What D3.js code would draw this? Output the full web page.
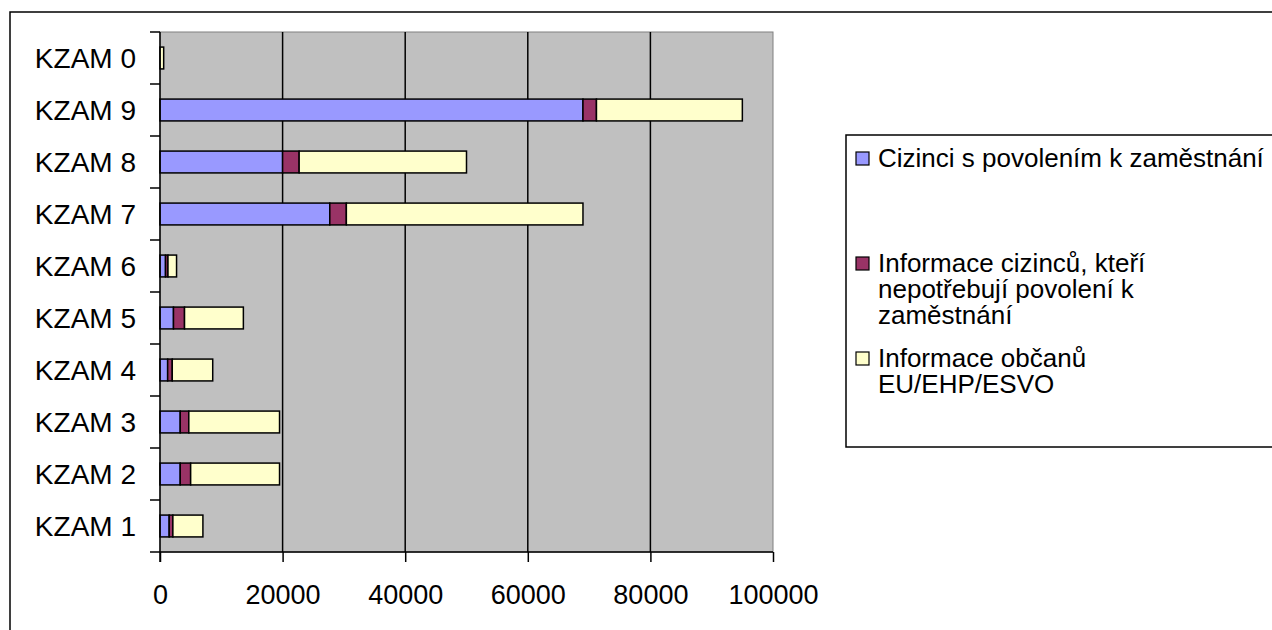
<!DOCTYPE html>
<html>
<head>
<meta charset="utf-8">
<script src="https://cdn.jsdelivr.net/npm/d3@7"></script>
<style>
  body { margin: 0; background: #fff; }
  svg { display: block; font-family: Arial, "Liberation Sans", sans-serif; }
</style>
</head>
<body>
<svg id="chart" width="1272" height="630"></svg>
<script>
// categories from top to bottom, as in the picture
const categories = ['KZAM 0', 'KZAM 9', 'KZAM 8', 'KZAM 7', 'KZAM 6', 'KZAM 5', 'KZAM 4', 'KZAM 3', 'KZAM 2', 'KZAM 1'];
const seriesNames = [
  'Cizinci s povolením k zaměstnání',
  'Informace cizinců, kteří nepotřebují povolení k zaměstnání',
  'Informace občanů EU/EHP/ESVO'
];
// legend text is wrapped like in the original
const legendLines = [
  ['Cizinci s povolením k zaměstnání'],
  ['Informace cizinců, kteří', 'nepotřebují povolení k', 'zaměstnání'],
  ['Informace občanů', 'EU/EHP/ESVO']
];
const withPermit    = [0,   69000, 20000, 27700, 900,  2200, 1250, 3300, 3300, 1500];
const withoutPermit = [0,   2200,  2700,  2700,  400,  1800, 750,  1400, 1700, 600];
const euCitizens    = [600, 23800, 27300, 38600, 1400, 9600, 6600, 14800, 14500, 4900];
const xTicks = [0, 20000, 40000, 60000, 80000, 100000];
const colors = ['#9999ff', '#993366', '#ffffcc'];

const svg = d3.select('#chart');

// outer chart frame (runs off the right and bottom edge)
svg.append('rect')
  .attr('x', 10).attr('y', 12)
  .attr('width', 1300).attr('height', 700)
  .attr('fill', '#fff')
  .attr('stroke', '#000').attr('stroke-width', 1.5);

const plot = { left: 160, right: 773, top: 32, bottom: 552 };

const x = d3.scaleLinear().domain([0, 100000]).range([plot.left, plot.right]);
const y = d3.scaleBand().domain(categories).range([plot.top, plot.bottom]).paddingInner(0.58).paddingOuter(0.29);

// grey plot area
svg.append('rect')
  .attr('x', plot.left).attr('y', plot.top)
  .attr('width', plot.right - plot.left).attr('height', plot.bottom - plot.top)
  .attr('fill', '#c0c0c0')
  .attr('stroke', '#808080').attr('stroke-width', 1);

// vertical gridlines
svg.append('g')
  .selectAll('line')
  .data(xTicks.slice(1, -1))
  .join('line')
    .attr('x1', d => x(d)).attr('x2', d => x(d))
    .attr('y1', plot.top).attr('y2', plot.bottom)
    .attr('stroke', '#000').attr('stroke-width', 1.5);

// stacked bars
const table = categories.map((c, i) => ({ cat: c, s0: withPermit[i], s1: withoutPermit[i], s2: euCitizens[i] }));
const stacked = d3.stack().keys(['s0', 's1', 's2'])(table);

svg.append('g')
  .selectAll('g')
  .data(stacked)
  .join('g')
    .attr('fill', (d, i) => colors[i])
  .selectAll('rect')
  .data(d => d.filter(p => p[1] - p[0] > 0))
  .join('rect')
    .attr('x', d => x(d[0]))
    .attr('y', d => y(d.data.cat))
    .attr('width', d => x(d[1]) - x(d[0]))
    .attr('height', y.bandwidth())
    .attr('stroke', '#000').attr('stroke-width', 1.5);

// x axis
const xAxis = svg.append('g')
  .attr('transform', `translate(0,${plot.bottom})`)
  .call(d3.axisBottom(x).tickValues(xTicks).tickFormat(d3.format('d')).tickSize(10));
xAxis.select('.domain').attr('stroke', '#000').attr('stroke-width', 1.5).attr('d', `M${plot.left},0H${plot.right}`);
xAxis.selectAll('.tick line').attr('stroke-width', 1.5);
xAxis.selectAll('.tick text')
  .attr('y', 43).attr('dy', '0.35em')
  .attr('font-size', 27)
  .attr('font-family', 'Arial, "Liberation Sans", sans-serif')
  .attr('fill', '#000');

// y axis: ticks sit between the categories
const yAxis = svg.append('g')
  .attr('transform', `translate(${plot.left},0)`);
yAxis.append('line')
  .attr('x1', 0).attr('x2', 0)
  .attr('y1', plot.top).attr('y2', plot.bottom + 10)
  .attr('stroke', '#000').attr('stroke-width', 1.5);
const bandEdge = i => plot.top + i * (plot.bottom - plot.top) / categories.length;
yAxis.selectAll('.sep')
  .data(d3.range(categories.length + 1))
  .join('line')
    .attr('class', 'sep')
    .attr('x1', -10).attr('x2', 0)
    .attr('y1', bandEdge)
    .attr('y2', bandEdge)
    .attr('stroke', '#000').attr('stroke-width', 1.5);
yAxis.selectAll('.lab')
  .data(categories)
  .join('text')
    .attr('class', 'lab')
    .attr('x', -24)
    .attr('y', d => y(d) + y.bandwidth() / 2)
    .attr('dy', '0.35em')
    .attr('text-anchor', 'end')
    .attr('font-size', 28)
    .text(d => d);

// legend box
const legend = svg.append('g');
legend.append('rect')
  .attr('x', 846).attr('y', 135)
  .attr('width', 500).attr('height', 312)
  .attr('fill', '#fff')
  .attr('stroke', '#000').attr('stroke-width', 1.5);

const legendY = [158, 263, 358];
const item = legend.selectAll('.item')
  .data(seriesNames)
  .join('g')
    .attr('class', 'item')
    .attr('transform', (d, i) => `translate(856,${legendY[i]})`);
item.append('rect')
  .attr('x', 0).attr('y', -6)
  .attr('width', 13).attr('height', 13)
  .attr('fill', (d, i) => colors[i])
  .attr('stroke', '#000').attr('stroke-width', 1.2);
item.append('text')
  .attr('font-size', 26)
  .selectAll('tspan')
  .data((d, i) => legendLines[i])
  .join('tspan')
    .attr('x', 22)
    .attr('y', (d, j) => j * 26)
    .attr('dy', '0.35em')
    .text(d => d);
</script>
</body>
</html>
